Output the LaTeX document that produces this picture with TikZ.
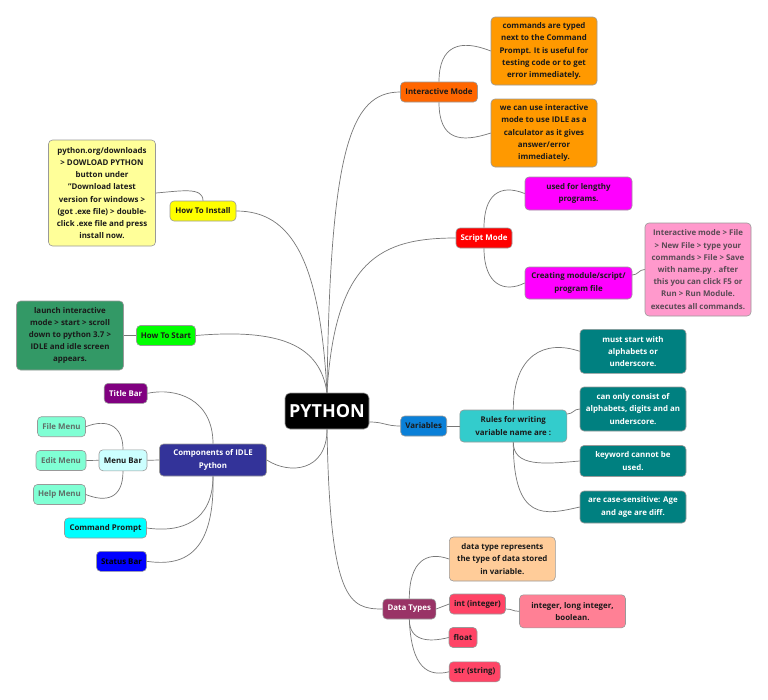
\documentclass[tikz,border=0pt]{standalone}
\usepackage{fontspec}
\setmainfont{Open Sans}
\definecolor{cIM}{HTML}{FF6600}
\definecolor{cOr}{HTML}{FF9900}
\definecolor{cMag}{HTML}{FF00FF}
\definecolor{cPink}{HTML}{FF99CC}
\definecolor{cPinkTxt}{HTML}{5A4A55}
\definecolor{cYel}{HTML}{FFFF00}
\definecolor{cLYel}{HTML}{FFFF99}
\definecolor{cGrn}{HTML}{00FF00}
\definecolor{cSea}{HTML}{339966}
\definecolor{cComp}{HTML}{333399}
\definecolor{cPurp}{HTML}{800080}
\definecolor{cLCyan}{HTML}{CCFFFF}
\definecolor{cAqua}{HTML}{80FFD4}
\definecolor{cAquaTxt}{HTML}{5F6F68}
\definecolor{cCyan}{HTML}{00FFFF}
\definecolor{cBlue}{HTML}{0000FF}
\definecolor{cVar}{HTML}{0A80D8}
\definecolor{cTurq}{HTML}{33CCCC}
\definecolor{cTeal}{HTML}{008080}
\definecolor{cDT}{HTML}{993366}
\definecolor{cPeach}{HTML}{FFCC99}
\definecolor{cRed2}{HTML}{FF4466}
\definecolor{cRose}{HTML}{FF8095}
\definecolor{cTxt}{HTML}{1A1A1A}
\definecolor{cLine}{HTML}{777777}
\begin{document}
\begin{tikzpicture}[x=1pt,y=-1pt,
  box/.style={draw=black!40, line width=0.6pt, rounded corners=4pt, inner sep=0pt,
    align=center, text=cTxt, font=\bfseries\fontsize{7.9}{12.2}\selectfont},
  link/.style={draw=cLine, line width=0.7pt}]
\useasboundingbox (0,0) rectangle (768,699);
\fill[white] (0,0) rectangle (768,699);
% root
\node[box, fill=black, text=white, minimum width=84, minimum height=36, rounded corners=5pt,
  font=\bfseries\fontsize{18}{20}\selectfont] (root) at (327,411) {PYTHON};
% interactive mode
\node[box, fill=cIM, minimum width=77, minimum height=20] (im) at (439,92) {Interactive Mode};
\node[box, fill=cOr, minimum width=106, minimum height=68] (im1) at (544,51)
  {commands are typed\\next to the Command\\Prompt. It is useful for\\testing code or to get\\error immediately.};
\node[box, fill=cOr, minimum width=106, minimum height=68] (im2) at (544,133)
  {we can use interactive\\mode to use IDLE as a\\calculator as it gives\\answer/error\\immediately.};
% script mode
\node[box, fill=red, text=white, minimum width=56, minimum height=20] (sm) at (484,238) {Script Mode};
\node[box, fill=cMag, minimum width=107, minimum height=33] (sm1) at (578.5,193.5) {used for lengthy\\programs.};
\node[box, fill=cMag, minimum width=107, minimum height=32] (sm2) at (578.5,283) {Creating module/script/\\program file};
\node[box, fill=cPink, text=cPinkTxt, minimum width=106, minimum height=93] (sm3) at (698,269.5)
  {Interactive mode > File\\> New File > type your\\commands > File > Save\\with name.py . after\\this you can click F5 or\\Run > Run Module.\\executes all commands.};
% how to install
\node[box, fill=cYel, minimum width=66, minimum height=20] (hi) at (203,211) {How To Install};
\node[box, fill=cLYel, minimum width=107, minimum height=106] (hi1) at (102,193)
  {python.org/downloads\\> DOWLOAD PYTHON\\button under\\"Download latest\\version for windows >\\(got .exe file) > double-\\click .exe file and press\\install now.};
% how to start
\node[box, fill=cGrn, minimum width=59, minimum height=20] (hs) at (166,335.5) {How To Start};
\node[box, fill=cSea, minimum width=107, minimum height=69] (hs1) at (70,335.5)
  {launch interactive\\mode > start > scroll\\down to python 3.7 >\\IDLE and idle screen\\appears.};
% components
\node[box, fill=cComp, text=white, minimum width=107, minimum height=32] (comp) at (213,460) {Components of IDLE\\Python};
\node[box, fill=cPurp, text=white, minimum width=43, minimum height=20] (tb) at (125.7,393.3) {Title Bar};
\node[box, fill=cLCyan, minimum width=48, minimum height=21] (mb) at (123,460.3) {Menu Bar};
\node[box, fill=cAqua, text=cAquaTxt, minimum width=48, minimum height=20] (fm) at (61.5,426.7) {File Menu};
\node[box, fill=cAqua, text=cAquaTxt, minimum width=50, minimum height=20] (em) at (61,460.5) {Edit Menu};
\node[box, fill=cAqua, text=cAquaTxt, minimum width=52, minimum height=20] (hm) at (59.5,494.5) {Help Menu};
\node[box, fill=cCyan, minimum width=82, minimum height=20] (cp) at (105.5,528) {Command Prompt};
\node[box, fill=cBlue, text=black, minimum width=50, minimum height=20] (stb) at (121.5,561.3) {Status Bar};
% variables
\node[box, fill=cVar, minimum width=46, minimum height=20] (var) at (423.7,426) {Variables};
\node[box, fill=cTurq, minimum width=107, minimum height=32] (rules) at (513.3,426) {Rules for writing\\variable name are :};
\node[box, fill=cTeal, text=white, minimum width=106, minimum height=44] (r1) at (633,351.3) {must start with\\alphabets or\\underscore.};
\node[box, fill=cTeal, text=white, minimum width=106, minimum height=44] (r2) at (633,409) {can only consist of\\alphabets, digits and an\\underscore.};
\node[box, fill=cTeal, text=white, minimum width=106, minimum height=31] (r3) at (633,461) {keyword cannot be\\used.};
\node[box, fill=cTeal, text=white, minimum width=106, minimum height=32] (r4) at (633,507) {are case-sensitive: Age\\and age are diff.};
% data types
\node[box, fill=cDT, text=white, minimum width=53, minimum height=20] (dt) at (409.3,609) {Data Types};
\node[box, fill=cPeach, minimum width=106, minimum height=44] (dt1) at (502.3,559) {data type represents\\the type of data stored\\in variable.};
\node[box, fill=cRed2, minimum width=56, minimum height=20] (int) at (477.5,604) {int (integer)};
\node[box, fill=cRose, minimum width=106, minimum height=33] (intd) at (572.5,611.3) {integer, long integer,\\boolean.};
\node[box, fill=cRed2, minimum width=28, minimum height=20] (fl) at (463,637.5) {float};
\node[box, fill=cRed2, minimum width=51, minimum height=20] (str) at (474.7,671.8) {str (string)};
% connectors from root
\draw[link] (root.north) .. controls +(3,-243) and +(-50,0) .. (im.west);
\draw[link] (root.north) .. controls +(-7,-133) and +(55,0) .. (hi.east);
\draw[link] (root.north) .. controls +(8,-133) and +(-75,0) .. (sm.west);
\draw[link] (root.north) .. controls +(-7,-48) and +(84,-7) .. (hs.east);
\draw[link] (root.south) .. controls +(0,42) and +(23,15) .. (comp.east);
\draw[link] (root.south) .. controls +(3,172) and +(-33,0) .. (dt.west);
\draw[link] ([yshift=-11pt]root.east) .. controls +(15,0) and +(-15,0) .. (var.west);
% interactive mode
\draw[link] (im.north) .. controls +(0,-37) and +(-30,-12) .. (im1.west);
\draw[link] (im.south) .. controls +(0,38) and +(-30,10) .. (im2.west);
% script mode
\draw[link] (sm.north) .. controls +(0,-33) and +(-25,-10) .. (sm1.west);
\draw[link] (sm.south) .. controls +(0,37) and +(-20,10) .. (sm2.west);
\draw[link] ([yshift=8pt]sm2.east) .. controls +(6,0) and +(-6,0) .. (sm3.west);
% install / start
\draw[link] (hi.north) .. controls +(0,-14) and +(25,-2) .. (hi1.east);
\draw[link] (hs.west) -- (hs1.east);
% components
\draw[link] (comp.north) .. controls +(0,-45) and +(28,-6) .. (tb.east);
\draw[link] (comp.west) -- (mb.east);
\draw[link] (comp.south) .. controls +(0,45) and +(35,5) .. (cp.east);
\draw[link] (comp.south) .. controls +(2,80) and +(35,5) .. (stb.east);
\draw[link] (mb.north) .. controls +(0,-25) and +(20,-8) .. (fm.east);
\draw[link] (mb.west) -- (em.east);
\draw[link] (mb.south) .. controls +(0,28) and +(20,8) .. (hm.east);
% variables
\draw[link] (var.east) -- (rules.west);
\draw[link] (rules.north) .. controls +(0,-55) and +(-35,-12) .. (r1.west);
\draw[link] ([yshift=12pt]rules.east) .. controls +(6,0) and +(-6,0) .. (r2.west);
\draw[link] (rules.south) .. controls +(0,25) and +(-35,3) .. (r3.west);
\draw[link] (rules.south) .. controls +(0,80) and +(-35,8) .. (r4.west);
% data types
\draw[link] (dt.north) .. controls +(0,-38) and +(-22,-8) .. (dt1.west);
\draw[link] (dt.east) -- (int.west);
\draw[link] (dt.south) .. controls +(0,22) and +(-20,5) .. (fl.west);
\draw[link] (dt.south) .. controls +(2,50) and +(-20,5) .. (str.west);
\draw[link] ([yshift=-5pt]int.east) .. controls +(7,0) and +(-7,0) .. (intd.west);
\end{tikzpicture}
\end{document}
